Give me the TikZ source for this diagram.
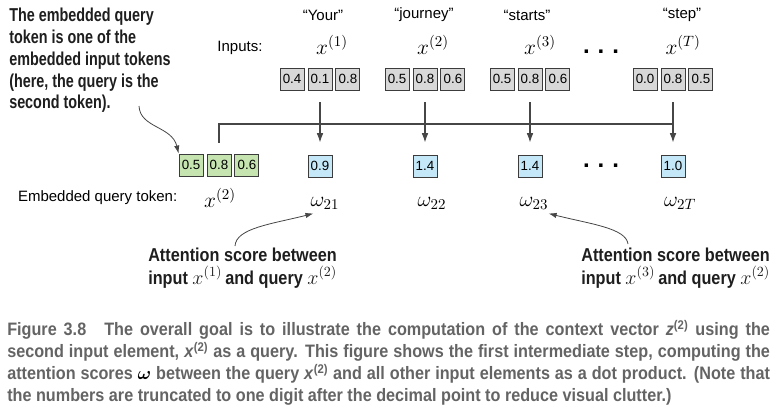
\RequirePackage{fix-cm}
\documentclass[tikz,border=0pt]{standalone}
\usepackage{amsmath,amssymb,bm}
\usepackage[no-math]{fontspec}
\setmainfont{Liberation Sans}
\newfontfamily\notefont[FakeStretch=0.87]{Liberation Sans}
\newfontfamily\topnotefont[FakeStretch=0.77]{Liberation Sans}
\newfontfamily\capfont[FakeStretch=0.9]{Liberation Sans}
\usepackage{tikz}
\usetikzlibrary{arrows.meta,positioning,calc}
\definecolor{inGray}{RGB}{216,216,216}
\definecolor{qGreen}{RGB}{198,228,176}
\definecolor{scoreBlue}{RGB}{196,232,248}
\definecolor{cellLine}{RGB}{60,60,60}
\definecolor{linkGray}{RGB}{70,70,70}
\definecolor{noteBlack}{RGB}{30,30,30}
\definecolor{capGray}{RGB}{100,100,100}
\newcommand{\dotrow}{.\hspace{6pt}.\hspace{6pt}.}
\newcommand{\notex}[1]{{\fontsize{15}{16}\selectfont$x^{(#1)}$}}

\begin{document}
\begin{tikzpicture}[x=0.75pt, y=-0.75pt, >={Latex[length=7pt,width=5pt]}, font=\fontsize{11.25}{13.5}\selectfont]
\tikzstyle{cell}=[draw=cellLine, line width=0.7pt, minimum width=18pt, minimum height=16.5pt, inner sep=0pt, font=\fontsize{10}{12}\selectfont]
\tikzstyle{inbox}=[cell, fill=inGray]
\tikzstyle{qbox}=[cell, fill=qGreen]
\tikzstyle{scorebox}=[cell, fill=scoreBlue]
\tikzstyle{mlabel}=[inner sep=0pt, font=\fontsize{16}{18}\selectfont]
\tikzstyle{link}=[draw=linkGray, line width=0.9pt]
\tikzstyle{pointer}=[draw=linkGray, line width=0.6pt, -{Latex[length=6pt,width=4pt]}]
\tikzstyle{note}=[align=left, inner sep=0pt, text=noteBlack, font=\notefont\bfseries\fontsize{14}{16.8}\selectfont]
\tikzstyle{dots}=[inner sep=0pt, font=\bfseries\fontsize{18}{18}\selectfont]
\useasboundingbox (0,0) rectangle (784,405);

% input tokens
\node (inlbl) at (240,48) {Inputs:};
\node (tok1) at (323,15) {“Your”};
\node (tok2) at (424,15) {“journey”};
\node (tok3) at (527,15) {“starts”};
\node (tokT) at (682,15) {“step”};
\node[mlabel] (x1) at (332,45) {$x^{(1)}$};
\node[mlabel] (x2) at (433,45) {$x^{(2)}$};
\node[mlabel] (x3) at (540,45) {$x^{(3)}$};
\node[mlabel] (xT) at (683,45) {$x^{(T)}$};
\node[dots] (indots) at (601,52) {\dotrow};
\foreach \n/\c/\a/\b/\d in {1/320/0.4/0.1/0.8, 2/425/0.5/0.8/0.6, 3/530/0.5/0.8/0.6, T/673/0.0/0.8/0.5}{
  \node[inbox] (in\n) at (\c,79) {\b};
  \node[inbox, left=2.25pt of in\n] (in\n-a) {\a};
  \node[inbox, right=2.25pt of in\n] (in\n-c) {\d};
}

% query and scores
\node[qbox] (q2) at (219,165) {0.8};
\node[qbox, left=2.25pt of q2] (q1) {0.5};
\node[qbox, right=2.25pt of q2] (q3) {0.6};
\node[mlabel] (xq) at (220,198) {$x^{(2)}$};
\node[anchor=east] (qlbl) at (182,198) {Embedded query token:};
\foreach \n/\c/\s in {1/320/0.9, 2/425/1.4, 3/530/1.4, T/673/1.0}{
  \node[scorebox] (s\n) at (\c,166) {\s};
  \draw[link, ->, shorten <=9pt, shorten >=9pt] (in\n) -- (s\n);
}
\node[dots] (sdots) at (601,166) {\dotrow};
\node[mlabel] (om1) at (325,203) {$\omega_{21}$};
\node[mlabel] (om2) at (432,203) {$\omega_{22}$};
\node[mlabel] (om3) at (534,203) {$\omega_{23}$};
\node[mlabel] (omT) at (680,203) {$\omega_{2T}$};
\coordinate (busend) at (673,124);
\draw[link, shorten <=8pt] (q2) |- (busend);

% notes
\node[note, font=\topnotefont\bfseries\fontsize{14}{16.3}\selectfont, anchor=north west] (noteq) at (9,8) {The embedded query\\token is one of the\\embedded input tokens\\(here, the query is the\\second token).};
\coordinate (noteqtail) at (139,106);
\draw[pointer] (noteqtail) .. controls (140,128) and (172,126) .. (q1.north west);
\node[note, anchor=north west] (note1) at (148,248) {Attention score between\\input \notex{1}\,and query \notex{2}};
\coordinate (note1tail) at (235,246);
\draw[pointer] (note1tail) .. controls (236,228) and (272,224) .. ($(om1.south west)+(3,4)$);
\node[note, anchor=north west] (note3) at (581,248) {Attention score between\\input \notex{3}\,and query \notex{2}};
\coordinate (note3tail) at (628,244);
\draw[pointer] (note3tail) .. controls (626,228) and (590,224) .. ($(om3.south east)+(0,4)$);

% caption
\node[anchor=north west, text width=572pt, align=justify, inner sep=0pt, text=capGray, font=\capfont\bfseries\fontsize{13.5}{16.5}\selectfont] (cap) at (7,320) {Figure 3.8\quad The overall goal is to illustrate the computation of the context vector \textit{z}\textsuperscript{(2)} using the\linebreak second input element, \textit{x}\textsuperscript{(2)} as a query. This figure shows the first intermediate step, computing the\linebreak attention scores {\color{black}$\boldsymbol{\omega}$} between the query \textit{x}\textsuperscript{(2)} and all other input elements as a dot product. (Note that\linebreak the numbers are truncated to one digit after the decimal point to reduce visual clutter.)};
\end{tikzpicture}
\end{document}
